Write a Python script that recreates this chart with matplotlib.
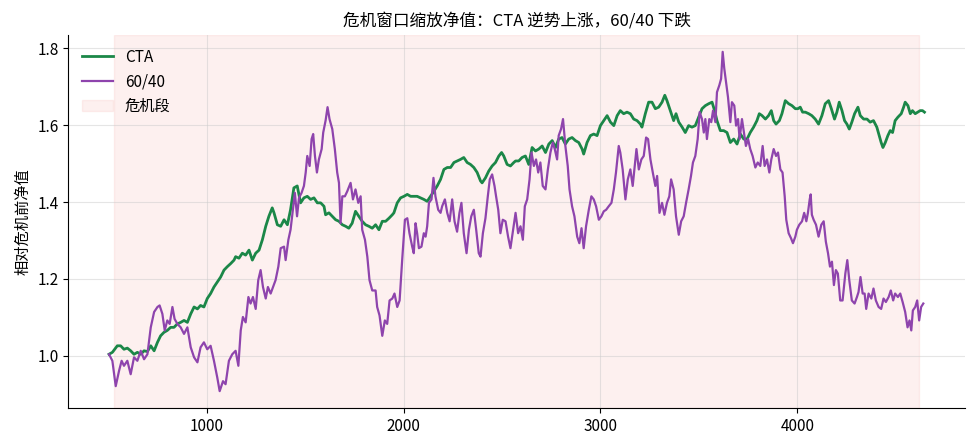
import matplotlib
matplotlib.use("Agg")
import matplotlib.pyplot as plt

plt.rcParams["font.family"] = ["Noto Sans CJK SC", "DejaVu Sans"]
plt.rcParams["axes.unicode_minus"] = False

# CTA net value (relative to pre-crisis level)
cta_x = [504, 521, 546, 563, 580, 597, 614, 631, 648, 665, 682, 699, 716, 733, 750, 766, 783, 800, 817, 834,
         851, 868, 885, 902, 919, 936, 953, 969, 986, 1003, 1020, 1037, 1054, 1071, 1088, 1105, 1122, 1139,
         1147, 1164, 1181, 1198, 1215, 1232, 1249, 1266, 1283, 1300, 1316, 1333, 1342, 1359, 1376, 1393, 1410,
         1426, 1443, 1460, 1477, 1494, 1511, 1528, 1545, 1562, 1579, 1596, 1604, 1621, 1638, 1655, 1672, 1689,
         1706, 1722, 1739, 1756, 1773, 1790, 1807, 1824, 1841,
         1858, 1875, 1892, 1909, 1926, 1943, 1951, 1968, 1985, 2002, 2019, 2036, 2052, 2069, 2086, 2103, 2120,
         2137, 2154, 2171, 2188, 2205, 2222, 2239, 2256, 2272, 2289, 2306, 2323, 2340, 2357, 2374, 2391, 2399,
         2416, 2433, 2450, 2467, 2484, 2498, 2509, 2526, 2543, 2560,
         2569, 2585, 2602, 2619, 2636, 2653, 2670, 2687, 2704, 2721, 2738, 2755, 2772, 2788, 2805, 2822, 2839,
         2856, 2873, 2890, 2907, 2915, 2932, 2949, 2966, 2983, 3000, 3017, 3034, 3051, 3068, 3085, 3101, 3118,
         3135, 3152, 3169, 3186, 3203, 3211, 3228, 3245, 3262,
         3279, 3296, 3313, 3327, 3338, 3355, 3372, 3384, 3398, 3415, 3431, 3448, 3465, 3482, 3499, 3516, 3533,
         3550, 3567, 3580, 3592, 3609, 3626, 3643, 3660, 3677, 3694, 3711, 3728, 3745, 3761, 3778, 3795, 3807,
         3821, 3838, 3854, 3868, 3880, 3892, 3909, 3922, 3939, 3956, 3973,
         3990, 4003, 4015, 4027, 4041, 4058, 4074, 4091, 4108, 4125, 4142, 4159, 4173, 4189, 4201, 4213, 4227,
         4240, 4252, 4264, 4277, 4291, 4308, 4320, 4337, 4354, 4370, 4387, 4404, 4416, 4426, 4435, 4447, 4460,
         4472, 4484, 4497, 4511, 4528, 4540, 4548, 4562, 4574, 4585, 4599, 4612, 4624, 4636, 4646]
cta_y = [1.004, 1.009, 1.026, 1.026, 1.017, 1.020, 1.013, 1.004, 1.009, 1.004, 1.013, 1.011, 1.026, 1.013,
         1.035, 1.052, 1.061, 1.066, 1.074, 1.074, 1.083, 1.087, 1.092, 1.087, 1.109, 1.127, 1.122, 1.131,
         1.127, 1.149, 1.162, 1.179, 1.192, 1.205, 1.223, 1.232, 1.240, 1.249,
         1.258, 1.254, 1.267, 1.262, 1.275, 1.249, 1.267, 1.275, 1.302, 1.337, 1.363, 1.385, 1.372, 1.341,
         1.337, 1.354, 1.341, 1.380, 1.437, 1.442, 1.398, 1.411, 1.415, 1.407, 1.411, 1.398, 1.398, 1.389,
         1.367, 1.372, 1.363, 1.354, 1.350, 1.341, 1.337, 1.332, 1.345, 1.376, 1.363, 1.350, 1.341, 1.337,
         1.332,
         1.341, 1.328, 1.350, 1.350, 1.358, 1.367, 1.372, 1.398, 1.411, 1.415, 1.420, 1.415, 1.415, 1.415,
         1.411, 1.407, 1.402, 1.415, 1.428, 1.442, 1.459, 1.485, 1.490, 1.490, 1.503, 1.507, 1.511, 1.516,
         1.503, 1.498, 1.490, 1.477, 1.455, 1.450, 1.463, 1.481, 1.494, 1.503, 1.520, 1.529, 1.520, 1.498,
         1.494, 1.503,
         1.507, 1.507, 1.516, 1.520, 1.498, 1.542, 1.533, 1.538, 1.546, 1.529, 1.551, 1.560, 1.542, 1.564,
         1.568, 1.551, 1.564, 1.568, 1.560, 1.555, 1.538, 1.525, 1.555, 1.573, 1.577, 1.573, 1.599, 1.612,
         1.625, 1.608, 1.599, 1.625, 1.638, 1.630, 1.634, 1.630, 1.616, 1.612, 1.603, 1.595, 1.630, 1.660,
         1.660,
         1.643, 1.647, 1.660, 1.678, 1.664, 1.638, 1.612, 1.630, 1.608, 1.595, 1.581, 1.599, 1.595, 1.599,
         1.621, 1.643, 1.651, 1.656, 1.660, 1.638, 1.612, 1.586, 1.586, 1.581, 1.555, 1.564, 1.551, 1.577,
         1.564, 1.564, 1.581, 1.595, 1.612, 1.630, 1.625, 1.616, 1.625, 1.638, 1.612, 1.603, 1.612, 1.630,
         1.664, 1.656, 1.651,
         1.643, 1.643, 1.647, 1.634, 1.634, 1.630, 1.625, 1.616, 1.603, 1.625, 1.656, 1.664, 1.643, 1.616,
         1.634, 1.660, 1.638, 1.612, 1.603, 1.590, 1.608, 1.630, 1.647, 1.625, 1.616, 1.616, 1.608, 1.612,
         1.595, 1.573, 1.555, 1.542, 1.555, 1.573, 1.586, 1.581, 1.612, 1.621, 1.630, 1.647, 1.660, 1.651,
         1.630, 1.638, 1.630, 1.634, 1.638, 1.638, 1.634]

# 60/40 portfolio net value
pf_x = [504, 521, 538, 555, 568, 580, 597, 614, 631, 648, 665, 682, 699, 716, 733, 750, 761, 775, 787, 800,
        812, 826, 837, 851, 868, 885, 902, 919, 936, 953, 969, 986, 1003, 1020, 1037, 1054, 1066, 1083, 1096,
        1113, 1130,
        1147, 1161, 1173, 1184, 1198, 1212, 1223, 1235, 1249, 1262, 1274, 1286, 1300, 1311, 1325, 1337, 1350,
        1364, 1376, 1393, 1401, 1415, 1426, 1438, 1448, 1459, 1469, 1482, 1494, 1503, 1511, 1523, 1533, 1541,
        1550, 1560, 1570, 1584, 1592, 1604, 1614, 1624, 1638, 1651, 1663, 1672, 1680, 1689, 1702, 1714, 1731,
        1743, 1756, 1770, 1782, 1790, 1804, 1816, 1827, 1841,
        1858, 1866, 1878, 1892, 1905, 1917, 1929, 1943, 1954, 1968, 1980, 1993, 2007, 2019, 2030, 2044, 2052,
        2061, 2069, 2078, 2091, 2103, 2112, 2120, 2129, 2142, 2152, 2162, 2176, 2188, 2196, 2210, 2222, 2234,
        2247, 2259, 2272, 2284, 2294, 2306, 2320, 2332, 2344, 2357, 2369, 2382, 2391, 2403, 2416, 2428, 2438,
        2450, 2462, 2470, 2481, 2492, 2504, 2518, 2531, 2543, 2555,
        2569, 2582, 2594, 2606, 2616, 2628, 2640, 2650, 2662, 2673, 2684, 2695, 2707, 2721, 2733, 2746, 2758,
        2768, 2780, 2788, 2800, 2810, 2822, 2834, 2843, 2856, 2868, 2882, 2893, 2904, 2915, 2927, 2941, 2954,
        2966, 2978, 2992, 3005, 3017, 3029, 3042, 3056, 3068, 3079, 3093, 3101, 3113, 3127, 3139, 3152, 3164,
        3174, 3183, 3195, 3208, 3220, 3232, 3242, 3254, 3266,
        3279, 3288, 3300, 3313, 3325, 3338, 3350, 3359, 3372, 3384, 3398, 3410, 3423, 3435, 3448, 3460, 3470,
        3482, 3494, 3504, 3516, 3525, 3533, 3541, 3553, 3563, 3572, 3584, 3592, 3604, 3613, 3621, 3629, 3638,
        3648, 3660, 3668, 3680, 3689, 3699, 3707, 3719, 3729, 3739, 3750, 3761, 3773, 3787, 3799, 3812, 3824,
        3834, 3846, 3858, 3868, 3880, 3892, 3902, 3914, 3925, 3936, 3944, 3956, 3968, 3978,
        3990, 3998, 4010, 4024, 4035, 4046, 4054, 4063, 4068, 4074, 4083, 4095, 4108, 4122, 4134, 4145, 4156,
        4166, 4176, 4186, 4196, 4206, 4218, 4230, 4244, 4254, 4264, 4277, 4291, 4303, 4311, 4321, 4332, 4342,
        4350, 4362, 4376, 4387, 4399, 4413, 4426, 4438, 4450, 4464, 4475, 4487, 4497, 4511, 4523, 4535, 4548,
        4560, 4570, 4579, 4587, 4599, 4609, 4619, 4629, 4640]
pf_y = [1.004, 0.987, 0.921, 0.961, 0.987, 0.974, 0.987, 0.952, 0.996, 0.987, 1.013, 0.991, 1.004, 1.074,
        1.114, 1.127, 1.131, 1.109, 1.066, 1.092, 1.083, 1.127, 1.096, 1.083, 1.074, 1.057, 1.074, 1.022,
        0.996, 0.983, 1.022, 1.035, 1.017, 1.026, 0.987, 0.943, 0.908, 0.934, 0.926, 0.987, 1.004,
        1.013, 0.974, 1.066, 1.101, 1.087, 1.153, 1.136, 1.153, 1.122, 1.197, 1.223, 1.179, 1.149, 1.179,
        1.162, 1.179, 1.197, 1.232, 1.280, 1.284, 1.249, 1.302, 1.328, 1.380, 1.424, 1.363, 1.411, 1.424,
        1.442, 1.477, 1.520, 1.494, 1.564, 1.577, 1.520, 1.477, 1.511, 1.538, 1.581, 1.612, 1.647, 1.616,
        1.590, 1.538, 1.477, 1.450, 1.345, 1.415, 1.415, 1.428, 1.450, 1.407, 1.433, 1.398, 1.415, 1.328,
        1.302, 1.258, 1.197, 1.170,
        1.170, 1.127, 1.105, 1.052, 1.092, 1.083, 1.144, 1.149, 1.162, 1.127, 1.144, 1.249, 1.354, 1.358,
        1.319, 1.284, 1.267, 1.345, 1.319, 1.280, 1.284, 1.319, 1.310, 1.337, 1.398, 1.407, 1.463, 1.415,
        1.380, 1.372, 1.389, 1.407, 1.372, 1.350, 1.407, 1.350, 1.323, 1.372, 1.398, 1.319, 1.267, 1.328,
        1.363, 1.380, 1.328, 1.267, 1.258, 1.319, 1.358, 1.415, 1.459, 1.472, 1.442, 1.415, 1.380, 1.319,
        1.354, 1.350, 1.310, 1.280, 1.323,
        1.372, 1.319, 1.337, 1.302, 1.389, 1.407, 1.459, 1.529, 1.494, 1.511, 1.477, 1.503, 1.442, 1.433,
        1.485, 1.529, 1.555, 1.538, 1.511, 1.573, 1.590, 1.616, 1.546, 1.494, 1.433, 1.389, 1.363, 1.310,
        1.293, 1.332, 1.280, 1.337, 1.380, 1.415, 1.407, 1.389, 1.354, 1.363, 1.376, 1.380, 1.389, 1.398,
        1.433, 1.477, 1.546, 1.529, 1.485, 1.407, 1.459, 1.485, 1.442, 1.494, 1.538, 1.485, 1.511, 1.520,
        1.568, 1.564, 1.511, 1.477,
        1.442, 1.468, 1.372, 1.398, 1.367, 1.398, 1.415, 1.459, 1.433, 1.363, 1.315, 1.350, 1.363, 1.398,
        1.433, 1.468, 1.503, 1.520, 1.564, 1.634, 1.616, 1.581, 1.616, 1.564, 1.616, 1.608, 1.638, 1.608,
        1.686, 1.704, 1.721, 1.791, 1.748, 1.713, 1.673, 1.608, 1.660, 1.651, 1.599, 1.616, 1.564, 1.616,
        1.581, 1.546, 1.564, 1.538, 1.520, 1.490, 1.503, 1.494, 1.546, 1.494, 1.511, 1.477, 1.511, 1.538,
        1.520, 1.529, 1.485, 1.477, 1.415, 1.354, 1.319, 1.306, 1.293,
        1.310, 1.328, 1.341, 1.350, 1.372, 1.350, 1.372, 1.407, 1.420, 1.367, 1.354, 1.341, 1.310, 1.341,
        1.350, 1.297, 1.267, 1.232, 1.245, 1.184, 1.223, 1.214, 1.144, 1.144, 1.214, 1.249, 1.197, 1.144,
        1.136, 1.153, 1.166, 1.205, 1.162, 1.162, 1.122, 1.162, 1.149, 1.175, 1.144, 1.127, 1.122, 1.149,
        1.140, 1.153, 1.170, 1.144, 1.162, 1.153, 1.162, 1.140, 1.114, 1.074, 1.092, 1.066, 1.118, 1.127,
        1.144, 1.092, 1.127, 1.136]

crisis_start, crisis_end = 528, 4620

fig, ax = plt.subplots(figsize=(9.75, 4.47), dpi=100)
fig.subplots_adjust(left=0.07, right=0.99, top=0.922, bottom=0.087)

ax.axvspan(crisis_start, crisis_end, color="#e74c3c", alpha=0.08, label="危机段", zorder=0)
ax.plot(cta_x, cta_y, color="#1b8748", lw=2.0, label="CTA", zorder=3)
ax.plot(pf_x, pf_y, color="#8e44ad", lw=1.6, label="60/40", zorder=3)

ax.set_title("危机窗口缩放净值：CTA 逆势上涨，60/40 下跌", fontsize=12)
ax.set_ylabel("相对危机前净值", fontsize=11)
ax.set_yticks([1.0, 1.2, 1.4, 1.6, 1.8])
ax.tick_params(labelsize=11)
ax.grid(True, color="#cccccc", alpha=0.5, lw=0.8)
ax.spines["top"].set_visible(False)
ax.spines["right"].set_visible(False)

handles, labels = ax.get_legend_handles_labels()
order = [1, 2, 0]
ax.legend([handles[i] for i in order], [labels[i] for i in order],
          loc="upper left", frameon=False, fontsize=11)

fig.savefig("out.png", dpi=100)
